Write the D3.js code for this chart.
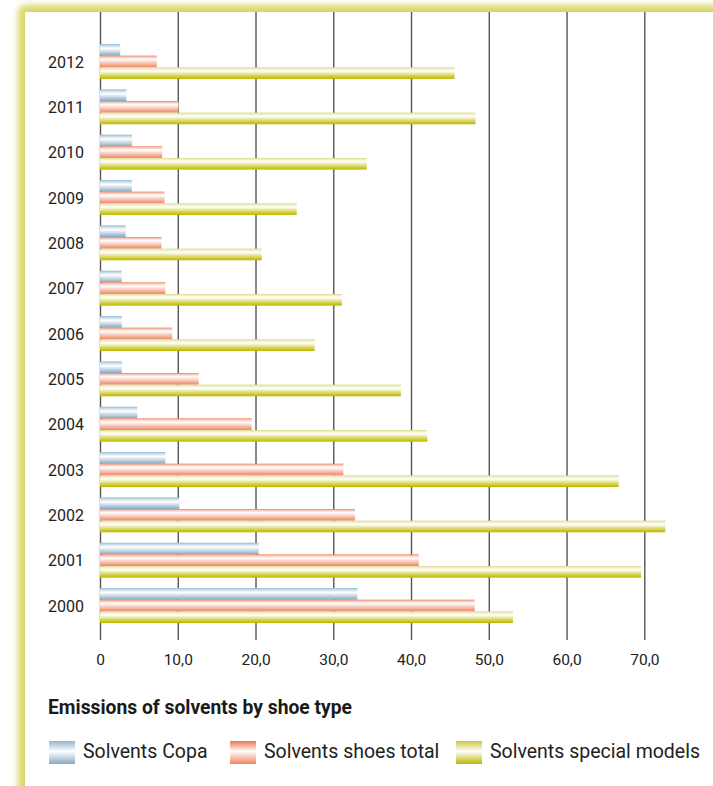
<!DOCTYPE html>
<html>
<head>
<meta charset="utf-8">
<script src="https://cdn.jsdelivr.net/npm/d3@7"></script>
<style>
  html, body { margin: 0; padding: 0; background: #fff; }
  svg { display: block; }
</style>
</head>
<body>
<svg id="chart" width="713" height="786"></svg>
<script>
// Emissions of solvents by shoe type, 2000–2012
const years = ["2012","2011","2010","2009","2008","2007","2006","2005","2004","2003","2002","2001","2000"];
const solventsCopa = [2.6, 3.4, 4.1, 4.1, 3.3, 2.8, 2.8, 2.8, 4.8, 8.4, 10.2, 20.4, 33.1];
const solventsShoesTotal = [7.3, 10.1, 8.0, 8.3, 7.9, 8.4, 9.3, 12.7, 19.5, 31.3, 32.8, 41.0, 48.2];
const solventsSpecialModels = [45.6, 48.3, 34.3, 25.3, 20.8, 31.1, 27.6, 38.7, 42.1, 66.7, 72.7, 69.6, 53.1];
const seriesNames = ["Solvents Copa", "Solvents shoes total", "Solvents special models"];
const xTicks = [0, 10, 20, 30, 40, 50, 60, 70];
const chartTitle = "Emissions of solvents by shoe type";

const seriesValues = [solventsCopa, solventsShoesTotal, solventsSpecialModels];
const gradStops = [
  [["0%", "#93b5cd"], ["12%", "#c4d7e5"], ["38%", "#ffffff"], ["100%", "#86a9c3"]],
  [["0%", "#ec7450"], ["10%", "#f7c2b0"], ["32%", "#ffffff"], ["100%", "#ee8563"]],
  [["0%", "#d8d88a"], ["12%", "#eeeec4"], ["32%", "#ffffff"], ["88%", "#c8c416"], ["100%", "#b9b700"]]
];
const legendStops = [
  [["0%", "#93b5cd"], ["45%", "#ffffff"], ["100%", "#86a9c3"]],
  [["0%", "#ec7450"], ["45%", "#ffffff"], ["100%", "#ee8563"]],
  [["0%", "#c8c640"], ["45%", "#ffffff"], ["100%", "#b9b700"]]
];

const svg = d3.select("#chart");
const defs = svg.append("defs");

// soft frame glow
const blur = defs.append("filter").attr("id", "glow")
  .attr("x", "-10%").attr("y", "-10%").attr("width", "130%").attr("height", "130%");
blur.append("feGaussianBlur").attr("stdDeviation", 3);

gradStops.forEach((stops, i) => {
  const g = defs.append("linearGradient").attr("id", "bar" + i)
    .attr("x1", 0).attr("y1", 0).attr("x2", 0).attr("y2", 1);
  stops.forEach(s => g.append("stop").attr("offset", s[0]).attr("stop-color", s[1]));
});
legendStops.forEach((stops, i) => {
  const g = defs.append("linearGradient").attr("id", "leg" + i)
    .attr("x1", 0).attr("y1", 0).attr("x2", 0).attr("y2", 1);
  stops.forEach(s => g.append("stop").attr("offset", s[0]).attr("stop-color", s[1]));
});

// frame: yellow-green glow on top and left edges, white panel over it
svg.append("rect")
  .attr("x", 18).attr("y", 5).attr("width", 900).attr("height", 1000)
  .attr("rx", 8).attr("fill", "#d8d866").attr("filter", "url(#glow)");
svg.append("rect")
  .attr("x", 25).attr("y", 12).attr("width", 900).attr("height", 1000)
  .attr("fill", "#ffffff");

const x = d3.scaleLinear().domain([0, 70]).range([100, 644.3]);
const y = d3.scaleBand().domain(years).range([38.8, 628.2])
  .paddingInner(0.23).paddingOuter(0.115);
const ySub = d3.scaleBand().domain(d3.range(3)).range([0, y.bandwidth()]);

// vertical grid lines + tick labels
const axis = d3.axisBottom(x).tickValues(xTicks)
  .tickSize(-(640 - 12)).tickPadding(14)
  .tickFormat(d => d === 0 ? "0" : d3.format(".1f")(d).replace(".", ","));
const gAxis = svg.append("g").attr("transform", "translate(0,640)").call(axis);
gAxis.select(".domain").remove();
gAxis.selectAll(".tick line").attr("stroke", "#555").attr("stroke-width", 1.4);
gAxis.selectAll(".tick text")
  .attr("fill", "#222").attr("font-family", "Roboto, sans-serif").attr("font-size", 15.5);

// bars
const groups = svg.append("g").selectAll("g").data(years).join("g")
  .attr("transform", d => `translate(0,${y(d)})`);
groups.each(function (yr, yi) {
  d3.select(this).selectAll("rect").data(seriesValues.map(v => v[yi])).join("rect")
    .attr("x", x(0))
    .attr("y", (d, si) => ySub(si))
    .attr("width", d => x(d) - x(0))
    .attr("height", ySub.bandwidth())
    .attr("fill", (d, si) => `url(#bar${si})`);
});

// year labels
svg.append("g").selectAll("text").data(years).join("text")
  .attr("x", 84).attr("y", d => y(d) + y.bandwidth() / 2 + 2)
  .attr("text-anchor", "end").attr("dominant-baseline", "middle")
  .attr("fill", "#222").attr("font-family", "Roboto, sans-serif").attr("font-size", 16)
  .text(d => d);

// title
svg.append("text").attr("x", 48).attr("y", 714)
  .attr("fill", "#1a1a1a").attr("font-family", "Roboto, sans-serif")
  .attr("font-weight", "bold").attr("font-size", 19.3)
  .text(chartTitle);

// legend
const legendX = [49, 230, 456];
const leg = svg.append("g").selectAll("g").data(seriesNames).join("g")
  .attr("transform", (d, i) => `translate(${legendX[i]},741)`);
leg.append("rect").attr("width", 26).attr("height", 23)
  .attr("fill", (d, i) => `url(#leg${i})`);
leg.append("text").attr("x", 34).attr("y", 12).attr("dominant-baseline", "middle")
  .attr("fill", "#222").attr("font-family", "Roboto, sans-serif").attr("font-size", 19.5)
  .text(d => d);
</script>
</body>
</html>
